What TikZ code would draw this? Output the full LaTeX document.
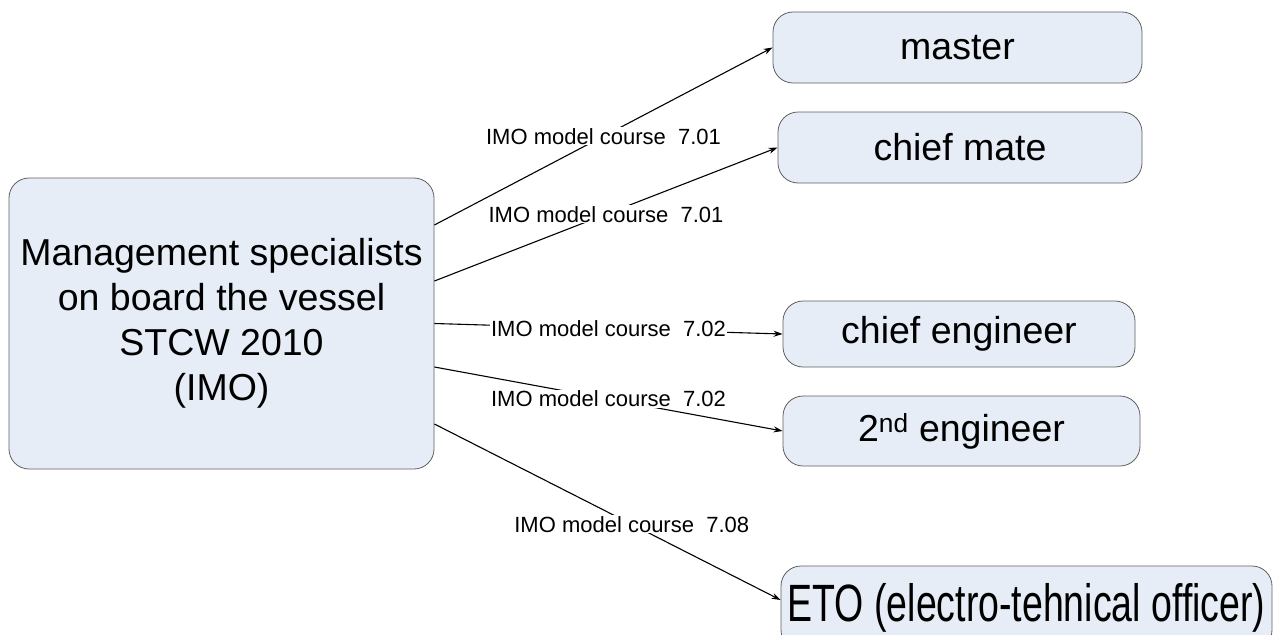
\documentclass[tikz,border=0pt]{standalone}
\usepackage{fontspec}
\setmainfont{Liberation Sans}
\usetikzlibrary{arrows.meta}
\definecolor{boxfill}{RGB}{230,237,247}
\definecolor{boxline}{RGB}{96,96,96}

\begin{document}
\begin{tikzpicture}[x=1pt,y=-1pt,
    rank/.style={draw=boxline,fill=boxfill,rounded corners=20pt,inner sep=0pt,line width=0.8pt,font=\fontsize{37.5}{45}\selectfont},
    course/.style={fill=white,inner sep=1pt,font=\fontsize{22}{26}\selectfont},
    link/.style={black,line width=1.1pt,-{Stealth[length=9pt,width=6pt]}}]
    \useasboundingbox (0,0) rectangle (1276,634);
    \node [rank,minimum width=425,minimum height=291,align=center] (mgmt) at (221.5,323.5) {Management specialists\\on board the vessel\\STCW 2010\\(IMO)};
    \node [rank,minimum width=369,minimum height=71] (master) at (957.5,47.5) {master};
    \node [rank,minimum width=364,minimum height=71] (mate) at (960,147.5) {chief mate};
    \node [rank,minimum width=352,minimum height=66] (cheng) at (959,334) {chief engineer};
    \node [rank,minimum width=357,minimum height=70] (seceng) at (961.5,431) {2\textsuperscript{nd} engineer};
    \node [rank,minimum width=491,minimum height=84] (eto) at (1026.5,608) {\scalebox{1}[1.4]{ETO (electro-tehnical officer)}};
    \draw [link] ([yshift=98.5]mgmt.east) -- node [course] {IMO model course~ 7.01} (master.west);
    \draw [link] ([yshift=42.5]mgmt.east) -- node [course] {IMO model course~ 7.01} (mate.west);
    \draw [link] (mgmt.east) -- node [course] {IMO model course~ 7.02} (cheng.west);
    \draw [link] ([yshift=-43.5]mgmt.east) -- node [course] {IMO model course~ 7.02} (seceng.west);
    \draw [link] ([yshift=-100.5]mgmt.east) -- node [course,pos=0.57] {IMO model course~ 7.08} ([yshift=8]eto.west);
\end{tikzpicture}
\end{document}
